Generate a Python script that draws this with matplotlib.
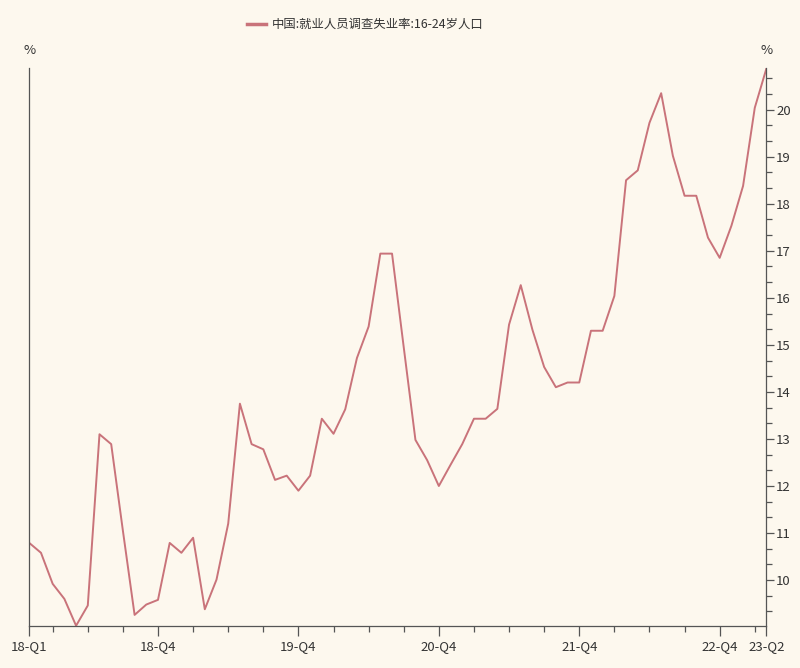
import numpy as np
import pandas as pd
import matplotlib
matplotlib.use('Agg')
import matplotlib.pyplot as plt
from matplotlib.ticker import FixedLocator, MultipleLocator

plt.rcParams['font.family'] = ['Noto Sans CJK SC', 'DejaVu Sans']

# monthly data, 2018-01 .. 2023-04
months = pd.period_range('2018-01', '2023-04', freq='M')
rate = [10.79, 10.58, 9.92, 9.60, 9.03, 9.46, 13.10, 12.89, 11.05, 9.26, 9.48, 9.58,
        10.79, 10.58, 10.90, 9.38, 10.01, 11.20, 13.75, 12.89, 12.78, 12.13, 12.22, 11.90,
        12.22, 13.43, 13.11, 13.63, 14.72, 15.39, 16.94, 16.94, 14.95, 12.98, 12.55, 12.00,
        12.45, 12.89, 13.43, 13.43, 13.64, 15.43, 16.27, 15.32, 14.53, 14.10, 14.20, 14.20,
        15.30, 15.30, 16.04, 18.50, 18.71, 19.72, 20.35, 19.02, 18.17, 18.17, 17.28, 16.85,
        17.53, 18.38, 20.04, 20.88]
series_name = '中国:就业人员调查失业率:16-24岁人口'

bg = '#FDF8EE'
line_color = '#C9737A'
axis_color = '#555555'
text_color = '#333333'

x = np.arange(len(months))

fig = plt.figure(figsize=(8, 6.68), dpi=100, facecolor=bg)
ax = fig.add_axes([0.0366, 0.0633, 0.9215, 0.8345], facecolor=bg)

ax.plot(x, rate, color=line_color, lw=1.4, label=series_name)
ax.set_xlim(x[0], x[-1])
ax.set_ylim(min(rate), max(rate))

# x ticks: major at start, each December and the end; minor at quarter ends
major_pos = [0] + [i for i, m in enumerate(months) if m.month == 12] + [len(months) - 1]
major_lab = [f"{months[i].year % 100:02d}-Q{(months[i].month - 1) // 3 + 1}" for i in major_pos]
minor_pos = [i for i, m in enumerate(months) if m.month in (3, 6, 9, 12)]
ax.xaxis.set_major_locator(FixedLocator(major_pos))
ax.set_xticklabels(major_lab)
ax.xaxis.set_minor_locator(FixedLocator(minor_pos))

# y on the right
ax.yaxis.tick_right()
ax.yaxis.set_major_locator(MultipleLocator(1))
ax.yaxis.set_minor_locator(MultipleLocator(1 / 3))

ax.tick_params(axis='x', which='major', length=7, width=0.9, color=axis_color,
               labelsize=9.5, labelcolor=text_color, pad=3)
ax.tick_params(axis='x', which='minor', length=4, width=0.9, color=axis_color)
ax.tick_params(axis='y', which='major', length=6, width=0.9, color=axis_color,
               labelsize=9.5, labelcolor=text_color, pad=1)
ax.tick_params(axis='y', which='minor', length=4, width=0.9, color=axis_color)

ax.spines['top'].set_visible(False)
for s in ['left', 'right', 'bottom']:
    ax.spines[s].set_color(axis_color)
    ax.spines[s].set_linewidth(0.9)

ax.text(0, 1.02, '%', transform=ax.transAxes, ha='center', va='bottom',
        fontsize=9.5, color=text_color)
ax.text(1, 1.02, '%', transform=ax.transAxes, ha='center', va='bottom',
        fontsize=9.5, color=text_color)

leg = fig.legend(loc='center', bbox_to_anchor=(0.457, 0.963), frameon=False,
                 fontsize=8.9, labelcolor=text_color, handlelength=1.5, handletextpad=0.5)
for h in leg.get_lines():
    h.set_linewidth(2.5)

fig.savefig('out.png', dpi=100, facecolor=bg)
